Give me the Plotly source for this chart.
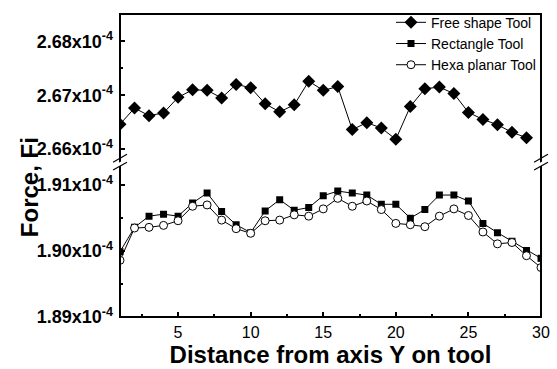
import plotly.graph_objects as go

x_free = list(range(1, 30))
free_shape = [2.6646, 2.6676, 2.6662, 2.6667, 2.6696, 2.6710, 2.6709, 2.6695, 2.6720, 2.6714,
              2.6684, 2.6669, 2.6682, 2.6726, 2.6709, 2.6716, 2.6636, 2.6649, 2.6639, 2.6618,
              2.6679, 2.6712, 2.6715, 2.6703, 2.6668, 2.6655, 2.6645, 2.6631, 2.6621]

x_all = list(range(1, 31))
rectangle = [1.8999, 1.9036, 1.9053, 1.9056, 1.9053, 1.9073, 1.9088, 1.9060, 1.9040, 1.9028,
             1.9061, 1.9078, 1.9062, 1.9066, 1.9084, 1.9091, 1.9088, 1.9085, 1.9071, 1.9071,
             1.9050, 1.9063, 1.9085, 1.9085, 1.9076, 1.9042, 1.9028, 1.9015, 1.9001, 1.8989]
hexa = [1.8986, 1.9035, 1.9036, 1.9039, 1.9046, 1.9068, 1.9070, 1.9047, 1.9034, 1.9027,
        1.9046, 1.9047, 1.9055, 1.9053, 1.9064, 1.9080, 1.9068, 1.9076, 1.9063, 1.9042,
        1.9040, 1.9037, 1.9053, 1.9064, 1.9054, 1.9029, 1.9011, 1.9013, 1.8993, 1.8975]

x_ticks = [5, 10, 15, 20, 25, 30]
top_ticks = [2.66, 2.67, 2.68]
top_labels = ["<b>2.66x10<sup>-4</sup></b>", "<b>2.67x10<sup>-4</sup></b>", "<b>2.68x10<sup>-4</sup></b>"]
bot_ticks = [1.89, 1.90, 1.91]
bot_labels = ["<b>1.89x10<sup>-4</sup></b>", "<b>1.90x10<sup>-4</sup></b>", "<b>1.91x10<sup>-4</sup></b>"]

BREAK = 0.506
FONT = "Liberation Sans, Arial, sans-serif"

fig = go.Figure()
fig.add_trace(go.Scatter(x=x_free, y=free_shape, name="Free shape Tool", yaxis="y2",
                         mode="lines+markers", line=dict(color="black", width=1),
                         marker=dict(symbol="diamond", size=10, color="black")))
fig.add_trace(go.Scatter(x=x_all, y=rectangle, name="Rectangle Tool", yaxis="y",
                         mode="lines+markers", line=dict(color="black", width=1),
                         marker=dict(symbol="square", size=7, color="black")))
fig.add_trace(go.Scatter(x=x_all, y=hexa, name="Hexa planar Tool", yaxis="y",
                         mode="lines+markers", line=dict(color="black", width=1),
                         marker=dict(symbol="circle", size=8, color="white",
                                     line=dict(color="black", width=1))))

xtickfont = dict(family=FONT, size=16, color="black")
ytickfont = dict(family=FONT, size=18, color="black")

fig.update_layout(
    width=557, height=369,
    margin=dict(l=120, r=12, t=7, b=52),
    paper_bgcolor="white", plot_bgcolor="white",
    font=dict(family=FONT, color="black"),
    showlegend=True,
    legend=dict(x=1.0, y=1.024, xanchor="right", yanchor="top",
                bgcolor="rgba(0,0,0,0)", font=dict(family=FONT, size=14, color="black"),
                tracegroupgap=0, itemwidth=30),
    xaxis=dict(range=[1, 30], tickvals=x_ticks, ticks="inside", ticklen=5, tickwidth=1.5,
               tickcolor="black", showgrid=False, zeroline=False, showline=False,
               tickfont=xtickfont, ticklabelstandoff=4,
               minor=dict(tickvals=[2.5, 7.5, 12.5, 17.5, 22.5, 27.5], ticks="inside",
                          ticklen=3, tickcolor="black", showgrid=False),
               title=dict(text="<b>Distance from axis Y on tool</b>",
                          font=dict(family=FONT, size=24, color="black"), standoff=0)),
    yaxis=dict(domain=[0, BREAK], range=[1.89, 1.91326], tickvals=bot_ticks, ticktext=bot_labels,
               ticks="inside", ticklen=5, tickwidth=1.5, tickcolor="black", showgrid=False,
               zeroline=False, showline=False, tickfont=ytickfont, ticklabelstandoff=6,
               minor=dict(tickvals=[1.895, 1.905], ticks="inside", ticklen=3,
                          tickcolor="black", showgrid=False)),
    yaxis2=dict(domain=[BREAK, 1], range=[2.65727, 2.68509], tickvals=top_ticks, ticktext=top_labels,
                ticks="inside", ticklen=5, tickwidth=1.5, tickcolor="black", showgrid=False,
                zeroline=False, showline=False, tickfont=ytickfont, ticklabelstandoff=6,
                anchor="x",
                minor=dict(tickvals=[2.665, 2.675], ticks="inside", ticklen=3,
                           tickcolor="black", showgrid=False)),
)

shapes = [dict(type="rect", xref="paper", yref="paper", x0=0, y0=0, x1=1, y1=1,
               line=dict(color="black", width=2), fillcolor="rgba(0,0,0,0)", layer="above")]
# axis break marks on left and right edges
for xc in (0, 1):
    dx = 14 / 425 / 2
    shapes.append(dict(type="path", xref="paper", yref="paper",
                       path=f"M {xc-dx},{BREAK-0.008} L {xc+dx},{BREAK+0.018} L {xc+dx},{BREAK+0.005} L {xc-dx},{BREAK-0.021} Z",
                       fillcolor="white", line=dict(width=0), layer="above"))
    for off in (-0.021, 0.005):
        shapes.append(dict(type="line", xref="paper", yref="paper",
                           x0=xc - dx, y0=BREAK + off, x1=xc + dx, y1=BREAK + off + 0.026,
                           line=dict(color="black", width=1.2), layer="above"))
fig.update_layout(shapes=shapes)

fig.add_annotation(text="<b>Force, Fi</b>", xref="paper", yref="paper", x=-0.215, y=0.43,
                   textangle=-90, showarrow=False, xanchor="center", yanchor="middle",
                   font=dict(family=FONT, size=24, color="black"))

fig.write_html("out.html")
